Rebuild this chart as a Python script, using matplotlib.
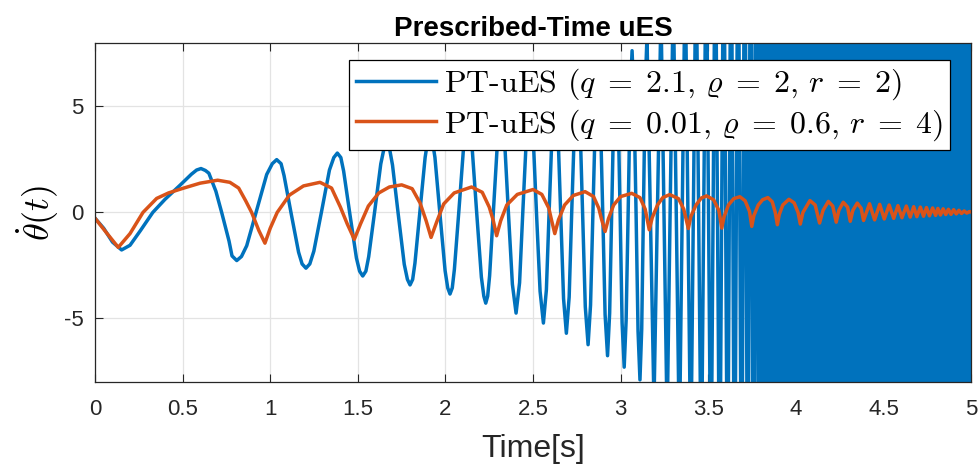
import numpy as np
import matplotlib
matplotlib.use('Agg')
from matplotlib import pyplot as plt

plt.rcParams['mathtext.fontset'] = 'cm'
plt.rcParams['axes.unicode_minus'] = False
plt.rcParams['font.family'] = ['Liberation Sans', 'DejaVu Sans']

# blue: PT-uES (q=2.1, rho=2, r=2)
blue_t = [0.0, 0.05, 0.1, 0.152, 0.2, 0.26, 0.33, 0.40, 0.485, 0.55, 0.58, 0.605, 0.63, 0.65, 0.69,
          0.723, 0.765, 0.782, 0.809, 0.836, 0.866, 0.923, 0.98, 1.012, 1.037, 1.062, 1.079, 1.12,
          1.162, 1.182, 1.204, 1.226, 1.249, 1.294, 1.338, 1.363, 1.383, 1.403, 1.419, 1.455, 1.492,
          1.51, 1.528, 1.546, 1.562, 1.597, 1.631, 1.648, 1.665, 1.682, 1.698, 1.731, 1.765, 1.783,
          1.798, 1.813, 1.826, 1.855, 1.884, 1.898, 1.912, 1.926, 1.94, 1.969, 1.998, 2.013, 2.026,
          2.039, 2.051, 2.077, 2.102, 2.116, 2.128, 2.14, 2.154, 2.179, 2.205, 2.219, 2.23, 2.241,
          2.252, 2.274, 2.296, 2.318, 2.339, 2.36, 2.382, 2.403, 2.423, 2.442, 2.462,
          2.482, 2.501, 2.52, 2.54, 2.559, 2.576, 2.592, 2.609, 2.626, 2.642, 2.658, 2.674, 2.69,
          2.706, 2.721, 2.737, 2.752, 2.768, 2.783, 2.798, 2.814, 2.828, 2.842, 2.856, 2.87, 2.884,
          2.898, 2.911, 2.925, 2.937, 2.949, 2.961, 2.973, 2.985, 2.997, 3.008, 3.02, 3.031, 3.043,
          3.054, 3.065, 3.076, 3.088, 3.099, 3.11, 3.12, 3.13, 3.14, 3.15,
          3.19, 3.23, 3.265, 3.30, 3.335, 3.368, 3.40, 3.43, 3.46, 3.488, 3.515, 3.54, 3.565, 3.588,
          3.61, 3.63, 3.65, 3.67, 3.69, 3.708, 3.725, 3.742, 3.758, 3.773, 3.788]
blue_v = [-0.27, -0.75, -1.4, -1.77, -1.55, -0.85, 0.0, 0.62, 1.28, 1.8, 2.0, 2.07, 1.98, 1.85, 1.0,
          0.0, -1.35, -2.05, -2.27, -2.08, -1.57, 0.11, 1.79, 2.3, 2.49, 2.3, 1.74, -0.07,
          -1.88, -2.43, -2.63, -2.43, -1.83, 0.085, 2.0, 2.59, 2.8, 2.59, 1.95, -0.1, -2.15,
          -2.77, -3.0, -2.77, -2.09, 0.1, 2.29, 2.96, 3.2, 2.96, 2.23, -0.11, -2.45, -3.16,
          -3.42, -3.16, -2.39, 0.1, 2.59, 3.35, 3.63, 3.35, 2.6, -0.11, -2.75, -3.56, -3.85,
          -3.56, -2.69, 0.11, 2.91, 3.76, 4.07, 3.76, 2.85, -0.1, -3.05, -3.95, -4.28, -3.95,
          -2.99, 0.11, 3.21, 4.5, 3.15, -0.12, -3.39, -4.75, -3.32, 0.12, 3.57,
          5.0, 3.5, -0.11, -3.72, -5.22, -3.65, 0.12, 3.89, 5.45, 3.82, -0.12, -4.07, -5.7,
          -3.99, 0.13, 4.26, 5.97, 4.18, -0.13, -4.45, -6.24, -4.37, 0.13, 4.63, 6.5, 4.56,
          -0.13, -4.82, -6.76, -4.75, 0.13, 5.0, 7.03, 4.93, -0.13, -5.2, -7.3, -5.1, 0.17,
          5.44, 7.63, 5.27, -0.13, -5.6, -7.9, -5.5, 0.2, 5.9, 8.3,
          -9, 9.5, -10, 10.5, -11, 11.5, -12, 12.5, -13, 13.5, -14, 14.5, -15, 15.5,
          -16, 16.5, -17, 17.5, -18, 18.5, -19, 19.5, -20, 20, -20]
# blue oscillation is so fast after ~3.78 s that it fills the whole axes
blue_band_t = [3.78, 5.0]
blue_band_lo = [-20, -20]
blue_band_hi = [20, 20]

# orange: PT-uES (q=0.01, rho=0.6, r=4)
orange_t = [0.0, 0.06, 0.133, 0.2, 0.274, 0.352, 0.42, 0.503, 0.6, 0.70, 0.77, 0.82, 0.86, 0.894,
            0.935, 0.97, 1.0, 1.04, 1.11, 1.19, 1.284, 1.35, 1.40, 1.44, 1.48, 1.515, 1.56, 1.62,
            1.68, 1.75, 1.81, 1.855, 1.89, 1.918, 1.95, 1.99, 2.05, 2.149, 2.21, 2.25, 2.272, 2.292,
            2.315, 2.35, 2.41, 2.5, 2.55, 2.59, 2.605, 2.624, 2.645, 2.68, 2.73, 2.797, 2.845, 2.875,
            2.89, 2.911, 2.93, 2.96, 3.0, 3.063, 3.11, 3.14, 3.163, 3.18, 3.21, 3.24, 3.28, 3.33,
            3.36, 3.386, 3.40, 3.43, 3.46, 3.49, 3.53, 3.56, 3.577, 3.59, 3.615, 3.645, 3.68, 3.71,
            3.735, 3.748, 3.76, 3.785, 3.81, 3.84, 3.865, 3.882, 3.894, 3.905, 3.925, 3.96, 3.99,
            4.012, 4.025, 4.04, 4.08, 4.11, 4.135, 4.155, 4.185, 4.21, 4.23, 4.245, 4.27, 4.295,
            4.31, 4.325, 4.35, 4.372, 4.386, 4.42, 4.449, 4.478, 4.504, 4.532, 4.558, 4.582, 4.605,
            4.63, 4.652, 4.672, 4.69, 4.71, 4.728, 4.745, 4.762, 4.78, 4.797, 4.81, 4.825, 4.84,
            4.855, 4.87, 4.885, 4.9, 4.915, 4.93, 4.945, 4.96, 4.975, 4.99, 5.0]
orange_v = [-0.27, -0.9, -1.65, -1.0, 0.0, 0.66, 0.92, 1.14, 1.38, 1.52, 1.42, 1.15, 0.55, 0.0,
            -0.85, -1.45, -0.75, 0.0, 0.82, 1.25, 1.42, 1.15, 0.26, -0.55, -1.27, -0.55, 0.3, 0.92,
            1.2, 1.3, 1.12, 0.45, -0.4, -1.18, -0.45, 0.4, 0.92, 1.2, 0.95, 0.25, -0.35, -1.1,
            -0.4, 0.35, 0.85, 1.08, 0.85, 0.2, -0.35, -1.0, -0.35, 0.35, 0.8, 0.98, 0.75, 0.2,
            -0.3, -0.9, -0.3, 0.35, 0.75, 0.9, 0.7, 0.15, -0.82, -0.25, 0.35, 0.7, 0.84, 0.65,
            0.15, -0.76, -0.2, 0.35, 0.68, 0.78, 0.6, 0.1, -0.74, -0.2, 0.35, 0.65, 0.74, 0.55,
            0.05, -0.66, -0.15, 0.35, 0.6, 0.7, 0.5, 0.0, -0.58, -0.1, 0.35, 0.62, 0.45,
            0.0, -0.55, 0.0, 0.56, 0.35, -0.5, 0.1, 0.52, 0.3, -0.46, 0.1, 0.48, 0.25,
            -0.42, 0.1, 0.44, 0.2, -0.38, 0.41, -0.35, 0.38, -0.31, 0.35, -0.28, 0.32, -0.25,
            0.3, -0.22, 0.27, -0.2, 0.25, -0.18, 0.23, -0.16, 0.21, -0.14, 0.19, -0.12, 0.17,
            -0.1, 0.15, -0.09, 0.13, -0.07, 0.1, -0.05, 0.07, -0.03, 0.04, 0.02]

labels = [r'PT-uES $(q\;=\;2.1,\,\varrho\;=\;2,\,r\;=\;2)$',
          r'PT-uES $(q\;=\;0.01,\,\varrho\;=\;0.6,\,r\;=\;4)$']
xticks = [0, 0.5, 1, 1.5, 2, 2.5, 3, 3.5, 4, 4.5, 5]
yticks = [-5, 0, 5]

blue = '#0072BD'
orange = '#D95319'

fig = plt.figure(figsize=(9.79, 4.71), dpi=100)
ax = fig.add_axes([0.097, 0.189, 0.895, 0.72])

l1, = ax.plot(blue_t, blue_v, color=blue, lw=2.5, solid_joinstyle='round')
ax.fill_between(blue_band_t, blue_band_lo, blue_band_hi, color=blue, lw=0)
l2, = ax.plot(orange_t, orange_v, color=orange, lw=2.5, solid_joinstyle='round')

ax.set_xlim(0, 5)
ax.set_ylim(-8, 8)
ax.set_xticks(xticks)
ax.set_xticklabels([('%g' % v) for v in xticks])
ax.set_yticks(yticks)
ax.set_yticklabels([('%g' % v) for v in yticks])
ax.tick_params(direction='in', length=6, width=0.8, top=True, right=True,
               labelsize=16, colors='#262626')
ax.tick_params(axis='x', pad=12)
ax.tick_params(axis='y', pad=8)
ax.grid(True, color='#e3e3e3', lw=0.9)
ax.set_axisbelow(True)
for s in ax.spines.values():
    s.set_color('#262626')
    s.set_linewidth(0.9)

ax.set_title('Prescribed-Time uES', fontsize=20, fontweight='bold', pad=5)
ax.set_xlabel('Time[s]', fontsize=23, color='#262626', labelpad=10)
ax.set_ylabel(r'$\dot{\theta}(t)$', fontsize=26, labelpad=2)

leg = ax.legend([l1, l2], labels, loc='upper right', bbox_to_anchor=(0.976, 0.95),
                borderaxespad=0, fancybox=False, framealpha=1, edgecolor='black',
                handlelength=2.5, handletextpad=0.25, borderpad=0.22, labelspacing=0.15,
                prop={'family': 'cmr10', 'size': 23})
leg.get_frame().set_linewidth(0.9)
for line in leg.get_lines():
    line.set_linewidth(2.5)

fig.savefig('out.png', dpi=100)
